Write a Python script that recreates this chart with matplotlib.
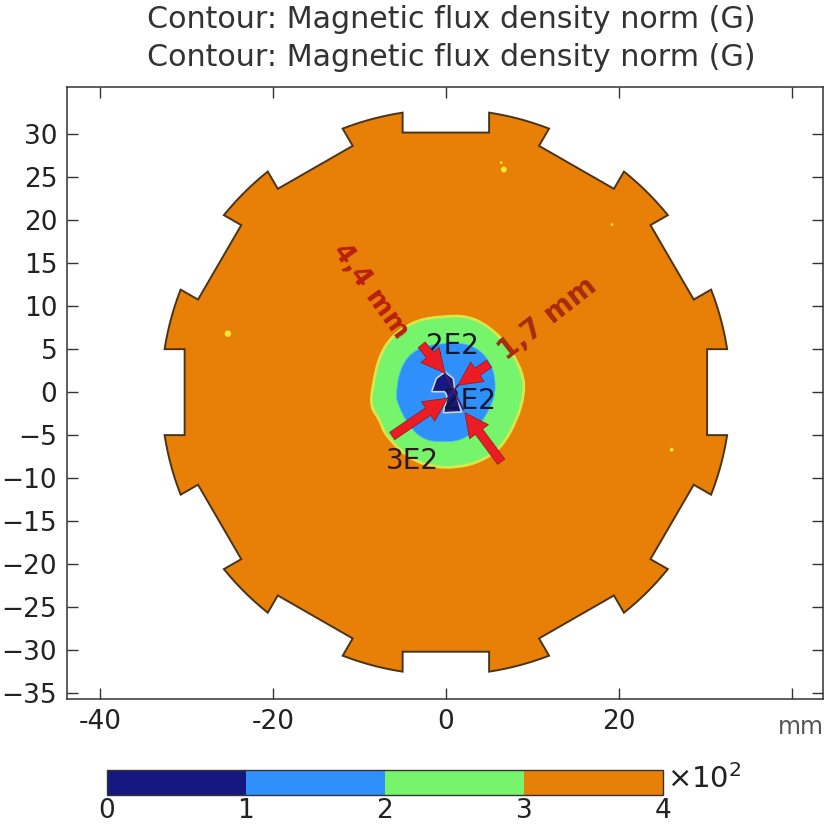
import numpy as np
import matplotlib
matplotlib.use("Agg")
import matplotlib.pyplot as plt
from matplotlib.colors import ListedColormap, BoundaryNorm
from matplotlib.cm import ScalarMappable
from matplotlib.path import Path
from matplotlib.patches import PathPatch

title_text = "Contour: Magnetic flux density norm (G)"
x_ticks = [-40, -20, 0, 20, 40]
x_tick_labels = ["-40", "-20", "0", "20", ""]
y_ticks = [30, 25, 20, 15, 10, 5, 0, -5, -10, -15, -20, -25, -30, -35]
levels = [0, 1, 2, 3, 4]
level_colors = ["#15197f", "#3090fb", "#76f56c", "#e87f07"]

notch_half_width = 5.0
notch_radius_y = 30.2
tooth_radius = 32.9
notch_count = 12

green_x = [-0.1, 2.5, 4.85, 7.2, 8.9, 9.1, 8.2, 6.4, 3.95, 1.2, -1.55, -4.3, -7.1, -7.6, -8.7, -8.5, -7.7, -6.2, -3.4]
green_y = [8.85, 8.85, 7.75, 5.45, 2.25, -0.15, -3.3, -6.5, -8.1, -8.8, -8.7, -7.7, -4.9, -3.25, -1.75, 0.6, 4.2, 6.6, 8.4]
blue_x = [-0.7, 2.9, 5.25, 5.85, 5.25, 3.65, 2.05, -0.3, -2.7, -4.45, -5.6, -5.8, -5.2, -3.5]
blue_y = [5.7, 5.7, 3.6, 0.6, -1.75, -4.15, -5.55, -5.85, -5.55, -3.7, -1.3, -0.15, 3.1, 5.05]
navy_x = [-0.1, 0.85, 1.05, 1.4, 1.8, -0.3, 0.15, -0.1, -1.65, -1.1]
navy_y = [2.35, 1.6, 0.2, -0.9, -2.3, -2.4, -0.55, 0.05, 0.05, 1.6]
speck_x = [-25.2, 6.7, 6.4, 19.2, 26.1]
speck_y = [6.8, 25.9, 26.7, 19.5, -6.7]

# arrows: tail x, tail y, head x, head y
arrow_tx = [-6.2, 6.4, -2.8, 5.0]
arrow_ty = [-5.1, -8.1, 5.5, 3.3]
arrow_hx = [0.2, 2.2, -0.1, 1.4]
arrow_hy = [-0.7, -2.4, 2.2, 0.8]


def smooth_closed(xs, ys):
    """Closed outline that uses the read points as quadratic control points."""
    pts = list(zip(xs, ys))
    n = len(pts)
    mids = [((pts[i][0] + pts[(i + 1) % n][0]) / 2, (pts[i][1] + pts[(i + 1) % n][1]) / 2) for i in range(n)]
    verts = [mids[-1]]
    codes = [Path.MOVETO]
    for i in range(n):
        verts += [pts[i], mids[i]]
        codes += [Path.CURVE3, Path.CURVE3]
    return Path(verts, codes)


fig = plt.figure(figsize=(8.27, 8.32), dpi=100)
W, H = 827, 832
ax = fig.add_axes([67 / W, 1 - 699 / H, (823 - 67) / W, (699 - 87) / H])
ax.set_xlim(-43.8, 43.6)
ax.set_ylim(-35.7, 35.5)

# gear outline
px, py = [], []
for k in range(notch_count):
    th0 = np.deg2rad(-30 * k)
    local_x = [-notch_half_width, -notch_half_width, notch_half_width, notch_half_width]
    local_y = [np.sqrt(tooth_radius**2 - notch_half_width**2), notch_radius_y, notch_radius_y,
               np.sqrt(tooth_radius**2 - notch_half_width**2)]
    for lx, ly in zip(local_x, local_y):
        px.append(lx * np.cos(th0) - ly * np.sin(th0))
        py.append(lx * np.sin(th0) + ly * np.cos(th0))
    a0 = np.arctan2(py[-1], px[-1])
    a1 = a0 - np.deg2rad(30) + 2 * np.arcsin(notch_half_width / tooth_radius)
    for a in np.linspace(a0, a1, 8)[1:-1]:
        px.append(tooth_radius * np.cos(a))
        py.append(tooth_radius * np.sin(a))

ax.fill(px, py, fc=level_colors[3], ec="#4a3418", lw=1.4, zorder=2)
ax.add_patch(PathPatch(smooth_closed(green_x, green_y), fc=level_colors[2], ec="#d8e84a", lw=2.0, zorder=3))
ax.add_patch(PathPatch(smooth_closed(blue_x, blue_y), fc=level_colors[1], ec="#45c8d8", lw=0.6, zorder=4))
ax.fill(navy_x, navy_y, fc=level_colors[0], ec="#c8d4d8", lw=1.2, zorder=5)
ax.scatter(speck_x, speck_y, s=[22, 18, 4, 4, 8], c="#f2e632", lw=0, zorder=3)

ax.text(0.75, 5.4, "2E2", fontsize=20, ha="center", va="center", color="#101830", zorder=6)
ax.text(2.7, -1.0, "2E2", fontsize=20, ha="center", va="center", color="#101830", zorder=6)
ax.text(-3.9, -8.0, "3E2", fontsize=20, ha="center", va="center", color="#301820", zorder=6)
ax.text(-8.7, 11.7, "4,4 mm", fontsize=19, fontweight="bold", rotation=-54, ha="center", va="center",
        color="#b8200c", zorder=6, rotation_mode="anchor")
ax.text(11.7, 8.6, "1,7 mm", fontsize=20, fontweight="bold", rotation=38, ha="center", va="center",
        color="#a82a10", zorder=6, rotation_mode="anchor")

for tx, ty, hx, hy in zip(arrow_tx, arrow_ty, arrow_hx, arrow_hy):
    ax.annotate("", xy=(hx, hy), xytext=(tx, ty), zorder=7,
                arrowprops=dict(arrowstyle="simple,head_length=0.85,head_width=0.85,tail_width=0.32",
                                mutation_scale=20, fc="#ec1c24", ec="#8a1a20", lw=0.5, shrinkA=0, shrinkB=0))
ax.plot([-0.1, 2.0], [2.2, -2.0], color="#4a1a6a", lw=1.2, zorder=8)
ax.plot([1.4, 0.2], [0.8, -0.7], color="#4a1a6a", lw=1.2, zorder=8)

ax.set_xticks(x_ticks)
ax.set_xticklabels(x_tick_labels)
ax.set_yticks(y_ticks)
ax.tick_params(axis="both", direction="in", length=8, width=1.0, labelsize=19, color="#333333",
               top=True, right=True, labelcolor="#222222", pad=7)
for s in ax.spines.values():
    s.set_color("#333333")
    s.set_linewidth(1.1)

fig.text(451.5 / W, 1 - 19 / H, title_text, fontsize=21.7, ha="center", va="center", color="#333333")
fig.text(451.5 / W, 1 - 58 / H, title_text, fontsize=21.7, ha="center", va="center", color="#333333")
fig.text(801 / W, 1 - 727 / H, "mm", fontsize=17, ha="center", va="center", color="#555555")

cax = fig.add_axes([107 / W, 1 - 795 / H, (663 - 107) / W, 25 / H])
cb = fig.colorbar(ScalarMappable(norm=BoundaryNorm(levels, 4), cmap=ListedColormap(level_colors)),
                  cax=cax, orientation="horizontal", ticks=levels)
cb.ax.tick_params(length=0, labelsize=19, labelcolor="#222222", pad=2)
cb.outline.set_edgecolor("#333333")
cb.outline.set_linewidth(1.0)
fig.text(667 / W, 1 - 779 / H, r"$\times 10^{2}$", fontsize=21, ha="left", va="center", color="#222222",
         math_fontfamily="dejavusans")

fig.savefig("out.png", dpi=100)
